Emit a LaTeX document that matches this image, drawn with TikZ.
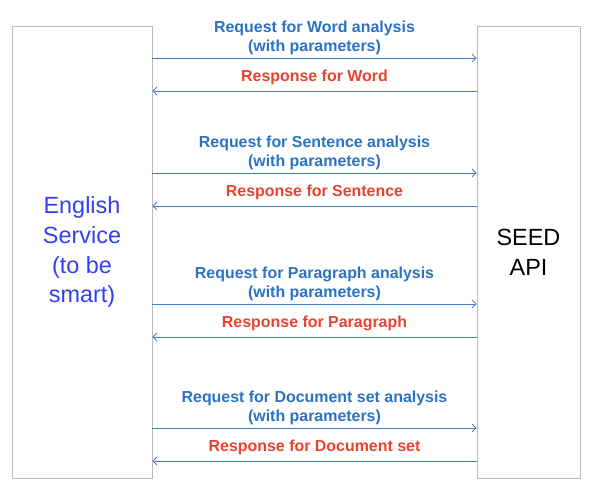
\documentclass[tikz,border=0pt]{standalone}
\usepackage{fontspec}
\setmainfont{Liberation Sans}
\usetikzlibrary{arrows.meta}
\definecolor{reqblue}{HTML}{2A72C2}
\definecolor{resred}{HTML}{E8432F}
\definecolor{lineblue}{HTML}{4A7EC4}
\definecolor{boxgray}{HTML}{BBBBBB}
\definecolor{servblue}{HTML}{3340F2}
\tikzset{
    party/.style={draw=boxgray, line width=0.8pt, minimum height=452bp,
        inner sep=0pt, align=center, font=\fontsize{23.5}{30}\selectfont},
    call/.style={lineblue, line width=0.8pt, -{Straight Barb[length=4bp,width=8bp]}},
    reqlabel/.style={above, inner sep=3bp, align=center, text=reqblue,
        font=\fontsize{16}{18.5}\selectfont\bfseries},
    reslabel/.style={above, inner sep=6bp, text=resred,
        font=\fontsize{16}{18.5}\selectfont\bfseries}
}
\begin{document}
\begin{tikzpicture}[x=1bp, y=-1bp]
                \useasboundingbox (0,0) rectangle (594,495);
                \node[party, minimum width=140bp, text=servblue] (english) at (82,252)
                    {English\\Service\\(to be\\smart)};
                \node[party, minimum width=103bp] (seed) at (528.5,252) {SEED\\API};
                \foreach \what/\yreq/\yres [count=\index] in
                    {Word/58/91, Sentence/173/206, Paragraph/304/337, Document set/428/461}
                {
                    \coordinate (req-\index) at (0,\yreq);
                    \coordinate (res-\index) at (0,\yres);
                    \draw[call] (english.east |- req-\index) -- (seed.west |- req-\index)
                        node[midway, reqlabel] {Request for \what{} analysis\\(with parameters)};
                    \draw[call] (seed.west |- res-\index) -- (english.east |- res-\index)
                        node[midway, reslabel] {Response for \what};
                }
            \end{tikzpicture}
\end{document}
